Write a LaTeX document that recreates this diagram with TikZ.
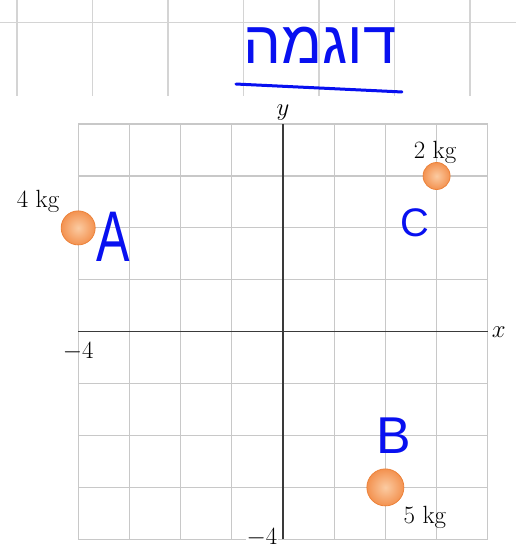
\documentclass[tikz,border=0pt]{standalone}
\usepackage{fontspec}
\newfontfamily\hebfont[Script=Hebrew]{Liberation Sans}
\newfontfamily\handfont{Liberation Sans}
\TeXXeTstate=1
\definecolor{ballin}{RGB}{251,203,162}
\definecolor{ballout}{RGB}{243,146,80}
\definecolor{balledge}{RGB}{236,130,58}
\definecolor{gridgray}{RGB}{200,200,200}
\definecolor{sheetgray}{RGB}{212,212,212}
\definecolor{axisgray}{RGB}{58,58,58}
\definecolor{ink}{RGB}{8,16,240}

\begin{document}
\begin{tikzpicture}[x=51.2bp,y=51.9bp,font=\fontsize{25}{28}\selectfont,
  mass/.style={circle,draw=balledge,line width=0.8bp,inner color=ballin,outer color=ballout,inner sep=0pt},
  hand/.style={text=ink,font=\handfont\fontsize{#1}{#1}\selectfont,inner sep=0pt}]
  \useasboundingbox (-5.527,-4.187) rectangle (4.551,6.391);
  % sheet lines behind the note
  \begin{scope}[x=1bp,y=-1bp,shift={(-283,-331.7)},sheetgray,line width=1.2bp]
    \foreach \u in {17,92.5,...,470} \draw (\u,0) -- (\u,96);
    \draw (0,22.7) -- (516,22.7);
  \end{scope}
  \foreach \k in {-4,...,4} {
    \draw[gridgray,line width=1.2bp] (\k,-4) -- (\k,4);
    \draw[gridgray,line width=1.2bp] (-4,\k) -- (4,\k);
  }
  \draw[axisgray,line width=1.4bp] (-4,0) -- (4,0) node[right,black] {$x$};
  \draw[axisgray,line width=1.4bp] (0,-4) -- (0,4) node[above,black] {$y$};
  \node (xmin) at (-4,-0.39) {$-4$};
  \node[fill=white,inner sep=1bp] (ymin) at (-0.41,-3.96) {$-4$};
  \node[mass,minimum size=34bp] (A) at (-4,2) {};
  \node[mass,minimum size=27bp] (C) at (3,3) {};
  \node[mass,minimum size=37bp] (B) at (2,-3) {};
  \node (mA) at (-4.785,2.518) {4 kg};
  \node (mC) at (2.969,3.462) {2 kg};
  \node (mB) at (2.773,-3.570) {5 kg};
  % handwritten notes
  \node[hand=72,xscale=0.7] (lA) at (-3.32,1.825) {A};
  \node[hand=52] (lB) at (2.168,-2.01) {B};
  \node[hand=40] (lC) at (2.578,2.094) {C};
  \node[hand=60] (title) at (0.723,5.524) {\hebfont\beginR דוגמה\endR};
  \draw[ink,line width=3bp,line cap=round] (-0.918,4.772) -- (2.324,4.619);
\end{tikzpicture}
\end{document}
